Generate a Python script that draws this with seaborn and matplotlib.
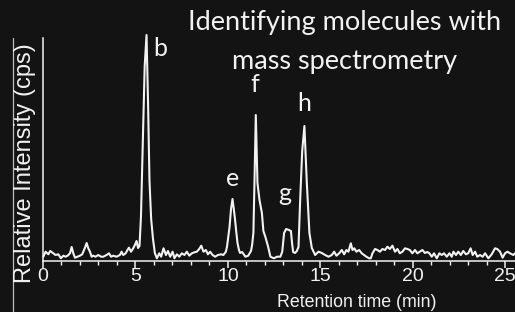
import matplotlib
matplotlib.use('Agg')
import pandas as pd
import matplotlib.pyplot as plt
from matplotlib.lines import Line2D
import seaborn as sns

# retention time (min) and relative intensity
tiempo = [0.02, 0.14, 0.29, 0.39, 0.56, 0.68, 0.83, 0.97, 1.10, 1.22, 1.33, 1.46, 1.55, 1.64, 1.73,
          1.87, 2.00, 2.12, 2.27, 2.36, 2.45, 2.54, 2.63, 2.72, 2.84, 2.99, 3.14, 3.26, 3.44, 3.57,
          3.68, 3.80, 3.98, 4.16, 4.25, 4.34, 4.47, 4.57, 4.65, 4.76, 4.88, 4.97, 5.06, 5.14,
          5.22, 5.30, 5.40, 5.50, 5.60, 5.68, 5.76, 5.85, 5.95, 6.05,
          6.16, 6.29, 6.39, 6.52, 6.65, 6.76, 6.88, 7.01, 7.11, 7.24, 7.37, 7.51, 7.65, 7.78, 7.91,
          8.05, 8.19, 8.32, 8.45, 8.56, 8.68, 8.81, 8.92, 9.04, 9.17, 9.31, 9.46, 9.64, 9.76, 9.89,
          9.95, 10.02, 10.09, 10.17, 10.25, 10.32, 10.39, 10.46, 10.52, 10.60, 10.66, 10.77, 10.95,
          11.10, 11.25, 11.31, 11.38, 11.44, 11.51, 11.60, 11.71, 11.84, 11.92, 12.03, 12.18, 12.30,
          12.49, 12.66, 12.84, 12.94, 13.04, 13.15, 13.30, 13.41, 13.47, 13.53, 13.63, 13.73,
          13.82, 13.91, 14.02, 14.14, 14.27, 14.41, 14.54, 14.72, 14.90, 15.08, 15.26, 15.44, 15.62,
          15.75, 15.87, 16.02, 16.16, 16.29, 16.41, 16.52, 16.65, 16.74, 16.84, 16.95, 17.10, 17.24,
          17.37, 17.49, 17.64, 17.73, 17.82, 17.96, 18.09, 18.22, 18.36, 18.50, 18.63, 18.76, 18.90,
          19.04, 19.17, 19.30, 19.44, 19.58, 19.71, 19.84, 19.98, 20.12, 20.25, 20.38, 20.52, 20.66,
          20.79, 20.90, 21.03, 21.15, 21.30, 21.44, 21.57, 21.69, 21.84, 21.98, 22.11, 22.20, 22.34,
          22.46, 22.60, 22.73, 22.88, 23.00, 23.13, 23.24, 23.37, 23.49, 23.64, 23.78, 23.91, 24.09,
          24.27, 24.45, 24.57, 24.72, 24.86, 24.99, 25.12, 25.26, 25.44, 25.53]
intensidade = [4.3, 9.3, 6.7, 10, 7.7, 6, 6.7, 2.7, 5.3, 4.3, 5.3, 7.7, 14, 7.7, 3.3,
               4.3, 5.3, 6.7, 13.3, 18, 12.7, 9.3, 4.3, 5.3, 4.3, 6, 4.3, 4.3, 6, 7.7,
               4.3, 5.3, 4.3, 6, 9.3, 6, 7.7, 11, 13.3, 9.3, 12.7, 16, 20, 13,
               15, 45, 120, 195, 226, 160, 80, 42, 22, 8,
               2.7, 7.7, 4.3, 12.7, 6, 10, 4.3, 9.3, 2.7, 6.7, 4.3, 7.7, 6, 9.3, 5.3,
               7.7, 8.7, 9.3, 12, 15.3, 9.3, 11, 6.7, 9.3, 6, 4.3, 6, 6.7, 6, 9.3,
               14, 24, 34, 52, 62, 52, 41, 28, 18, 11, 8, 9, 4.3,
               5.3, 10, 16, 28, 80, 146, 78, 61, 48, 30, 24, 14, 4.3,
               2.7, 4.3, 4.3, 9.3, 28, 32, 31, 30, 18, 9, 8, 10,
               14, 61, 110, 135, 78, 28, 13, 6, 9.3, 8, 6, 4.3, 6,
               9.3, 5.3, 7.7, 11, 6.7, 11, 9.3, 17.7, 11, 12.7, 9.3, 11, 7.7,
               6, 4.3, 2.7, 2.7, 7.7, 12, 11, 9.3, 12, 11, 14.3, 12, 15.3,
               9.3, 12, 7.7, 9.3, 12.7, 12, 11, 7.7, 11, 7.7, 9.3, 11, 8,
               9, 7.7, 4.3, 7.7, 2.7, 7.7, 6, 7.7, 4.3, 7.7, 4.3, 9.3, 6,
               9.3, 6, 10, 6.7, 7.7, 12.7, 6, 9.3, 4.3, 6, 4.3, 7.7, 2.7,
               6.7, 12.7, 12, 9.3, 3.3, 7.7, 9.3, 7.7, 6, 7.7]

picos = ['b', 'e', 'f', 'g', 'h']
picos_x = [6.34, 10.25, 11.48, 13.10, 14.12]
picos_y = [212.7, 82.7, 176, 67.7, 157.7]

df = pd.DataFrame({'tempo': tiempo, 'intensidade': intensidade})

fundo = '#131313'
branco = '#f2f2f2'

sns.set_theme(style='dark', rc={'figure.facecolor': fundo, 'axes.facecolor': fundo})
plt.rcParams['font.family'] = ['Liberation Sans', 'DejaVu Sans']

fig = plt.figure(figsize=(5.15, 3.12), dpi=100)
ax = fig.add_axes([43 / 515, 51 / 312, 472 / 515, 223 / 312])

sns.lineplot(data=df, x='tempo', y='intensidade', ax=ax, color=branco,
             linewidth=1.5, clip_on=False)

ax.set_xlim(0, 25.53)
ax.set_ylim(0, 223)
ax.set_xticks([0, 5, 10, 15, 20, 25])
ax.set_xticks(range(0, 26), minor=True)
ax.set_yticks([])
ax.set_xlabel('')
ax.set_ylabel('')
ax.grid(False)
ax.tick_params(axis='x', which='major', direction='out', length=5, width=1.1,
               color=branco, labelcolor=branco, labelsize=14, pad=0, bottom=True)
ax.tick_params(axis='x', which='minor', direction='out', length=3, width=1.0,
               color=branco, bottom=True)

for lado in ['top', 'right']:
    ax.spines[lado].set_visible(False)
for lado in ['left', 'bottom']:
    ax.spines[lado].set_visible(True)
    ax.spines[lado].set_color(branco)
    ax.spines[lado].set_linewidth(1.1)

for letra, px, py in zip(picos, picos_x, picos_y):
    ax.text(px, py, letra, color=branco, fontsize=18, family='Lato',
            ha='center', va='center')

fig.text(0.670, 0.928, 'Identifying molecules with', color=branco, fontsize=19.5,
         family='Lato', ha='center', va='center')
fig.text(0.670, 0.804, 'mass spectrometry', color=branco, fontsize=19.5,
         family='Lato', ha='center', va='center')

fig.text(0.693, 0.030, 'Retention time (min)', color=branco, fontsize=12.8,
         ha='center', va='center')
fig.text(0.0476, 0.478, 'Relative Intensity (cps)', color=branco, fontsize=17,
         rotation=90, ha='center', va='center')

fig.add_artist(Line2D([13 / 515, 13 / 515], [0, 1 - 38 / 312], color='#bdbdbd',
                      linewidth=0.9, transform=fig.transFigure))

fig.savefig('out.png', dpi=100, facecolor=fundo)
